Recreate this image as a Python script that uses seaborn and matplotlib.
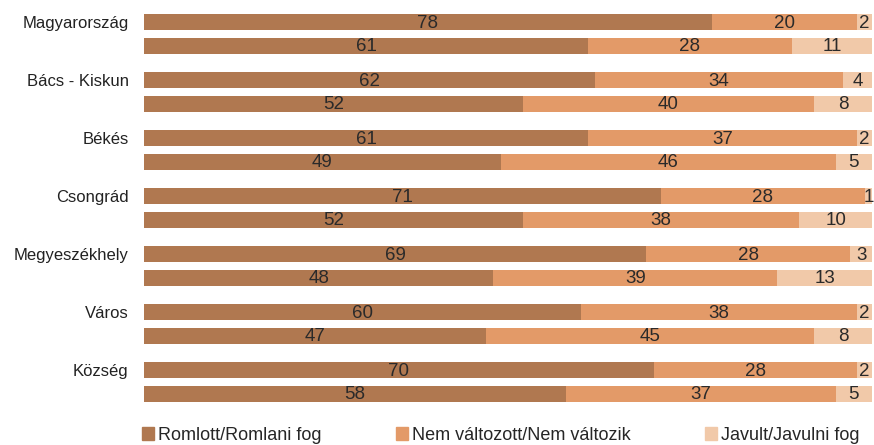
import matplotlib
matplotlib.use('Agg')
import matplotlib.pyplot as plt
import matplotlib.patches as mpatches
import seaborn as sns
import pandas as pd
import numpy as np

sns.set_style('white')
plt.rcParams['font.family'] = ['Liberation Sans', 'DejaVu Sans']

categories = ['Magyarország', 'Bács - Kiskun', 'Békés', 'Csongrád',
              'Megyeszékhely', 'Város', 'Község']
periods = ['Múlt', 'Jövő']
series_names = ['Romlott/Romlani fog', 'Nem változott/Nem változik', 'Javult/Javulni fog']

# first row of each pair = past, second row = future
worse_past = [78, 62, 61, 71, 69, 60, 70]
worse_future = [61, 52, 49, 52, 48, 47, 58]
same_past = [20, 34, 37, 28, 28, 38, 28]
same_future = [28, 40, 46, 38, 39, 45, 37]
better_past = [2, 4, 2, 1, 3, 2, 2]
better_future = [11, 8, 5, 10, 13, 8, 5]

colors = ['#b07850', '#e39a68', '#f1c9a9']

df = pd.DataFrame({
    'cat': categories * 2,
    'period': [periods[0]] * 7 + [periods[1]] * 7,
    'worse': worse_past + worse_future,
    'same': same_past + same_future,
    'better': better_past + better_future,
})
df['c1'] = df['worse']
df['c2'] = df['worse'] + df['same']
df['c3'] = df['c2'] + df['better']

fig, ax = plt.subplots(figsize=(8.74, 4.45), dpi=100)
fig.subplots_adjust(left=144/874, right=872/874, top=1-5/445, bottom=1-411/445)

# layered stacking: widest cumulative first
for col, color in zip(['c3', 'c2', 'c1'], colors[::-1]):
    sns.barplot(data=df, y='cat', x=col, hue='period', order=categories,
                hue_order=periods, palette=[color, color], orient='h',
                width=0.8, gap=0.31, legend=False, ax=ax, errorbar=None,
                linewidth=0, saturation=1)

# value labels at segment centres
for i, cat in enumerate(categories):
    for j, per in enumerate(periods):
        row = df[(df['cat'] == cat) & (df['period'] == per)].iloc[0]
        y = i + (-0.2 if j == 0 else 0.2)
        starts = [0, row['c1'], row['c2']]
        vals = [row['worse'], row['same'], row['better']]
        for s, v in zip(starts, vals):
            ax.text(s + v / 2, y + 0.02, str(v), ha='center', va='center',
                    fontsize=13.5, color='#2a2a2a')

ax.set_xlim(0, 100)
ax.set_ylim(6.5, -0.5)
ax.set_xticks([])
ax.set_yticks(np.arange(len(categories)) - 0.2)
ax.set_yticklabels(categories, fontsize=12, color='#222222')
ax.tick_params(axis='y', length=0, pad=11)
ax.set_xlabel('')
ax.set_ylabel('')
for sp in ax.spines.values():
    sp.set_visible(False)

handles = [mpatches.Patch(color=c, label=n) for c, n in zip(colors, series_names)]
fig.legend(handles=handles, loc='lower left', bbox_to_anchor=(140/874, -0.002),
           ncol=3, frameon=False, fontsize=13, handlelength=0.7, handleheight=0.7,
           handletextpad=0.2, columnspacing=4.1, borderaxespad=0, borderpad=0.1)

fig.savefig('out.png', dpi=100)
